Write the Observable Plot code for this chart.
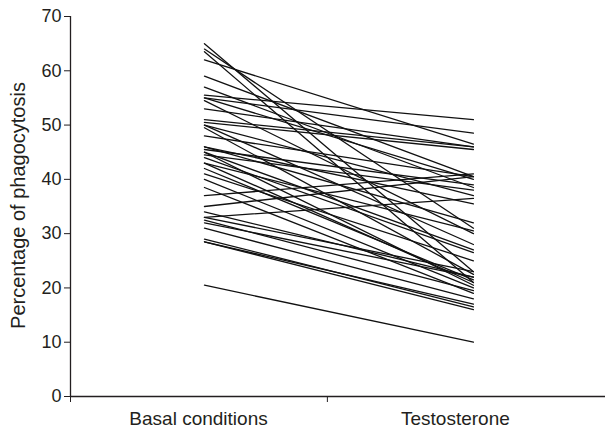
<!DOCTYPE html>
<html>
<head>
<meta charset="utf-8">
<script src="https://cdn.jsdelivr.net/npm/d3@7"></script>
<script src="https://cdn.jsdelivr.net/npm/@observablehq/plot@0.6"></script>
<style>
  html, body { margin: 0; padding: 0; background: #fff; }
  svg { display: block; }
</style>
</head>
<body>
<div id="chart"></div>
<script>
const categories = ["Basal conditions", "Testosterone"];
const basal = [65, 64, 63.5, 62, 59, 57, 55.5, 55, 55, 54.5, 53, 51, 50.5, 50, 49.5, 48, 46, 45.5, 45, 45, 44.5, 44, 43, 42, 41, 40, 38.5, 37, 35, 34, 33, 32.5, 32, 31, 29, 28.5, 28.5, 20.5, 46, 50, 43, 33];
const testosterone = [23, 31, 21, 46.5, 40.5, 38.5, 51, 48.5, 40, 30, 46, 46, 45.5, 37, 22.5, 40.5, 32, 39, 27, 20.5, 38, 26.5, 21, 21.5, 25, 20, 19, 41, 40.5, 22, 23, 19.5, 22, 18, 16.5, 17, 16, 10, 35.5, 28, 30.5, 36.5];
const yTicks = [0, 10, 20, 30, 40, 50, 60, 70];
const yLabel = "Percentage of phagocytosis";

const rows = [];
basal.forEach((v, i) => {
  rows.push({subject: i, cond: 0, value: v});
  rows.push({subject: i, cond: 1, value: testosterone[i]});
});

const font = "'Liberation Sans', Arial, Helvetica, sans-serif";
const ink = "#231f20";

const chart = Plot.plot({
  width: 606,
  height: 431,
  marginTop: 16,
  marginBottom: 35,
  marginLeft: 70,
  marginRight: 1,
  style: {fontFamily: font, fontSize: "18px", color: ink, background: "#fff"},
  x: {domain: [-0.498, 1.491]},
  y: {domain: [0, 70]},
  marks: [
    Plot.line(rows, {x: "cond", y: "value", z: "subject", stroke: "#111", strokeWidth: 1.3}),
    Plot.axisY({ticks: yTicks, tickSize: 6, tickPadding: 3, fontSize: 18, label: null, stroke: ink, fill: ink}),
    Plot.ruleX([-0.498], {y1: 0, y2: 70, stroke: ink, strokeWidth: 1.3}),
    Plot.ruleY([0], {stroke: ink, strokeWidth: 1.3}),
    Plot.axisX({ticks: [-0.498, 0.457], tickSize: 6, tickFormat: () => "", label: null, stroke: ink}),
    Plot.axisX({ticks: [-0.022, 0.933], tickSize: 0, tickPadding: 15, fontSize: 19, label: null, fill: ink,
      tickFormat: (d, i) => categories[i]}),
    Plot.text([yLabel], {frameAnchor: "left", dx: -52, dy: -1, rotate: -90, textAnchor: "middle", fontSize: 20, fill: ink})
  ]
});
document.getElementById("chart").appendChild(chart);
</script>
</body>
</html>
